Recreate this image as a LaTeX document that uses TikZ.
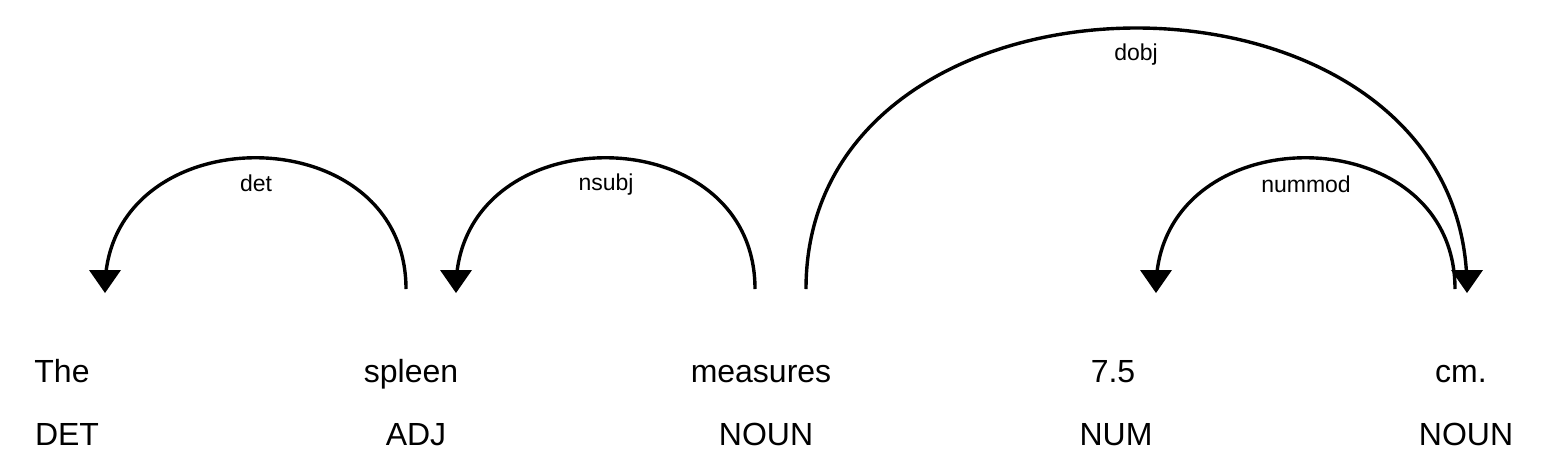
\documentclass[tikz,border=0pt]{standalone}
\usepackage{fontspec}
\setmainfont{Liberation Sans}
\begin{document}
\begin{tikzpicture}[x=1pt,y=-1pt,
  word/.style={font=\fontsize{32}{38}\selectfont, anchor=base, inner sep=0pt},
  arclabel/.style={font=\fontsize{23}{28}\selectfont, anchor=base, inner sep=0pt},
  deparc/.style={line width=3.4pt},
  dephead/.style={fill=black}]
\useasboundingbox (0,0) rectangle (1542,456);
% words
\node[word] (w1) at (62,382) {The};
\node[word] (w2) at (411,382) {spleen};
\node[word] (w3) at (761,382) {measures};
\node[word] (w4) at (1113,382) {7.5};
\node[word] (w5) at (1461,382) {cm.};
% tags
\node[word] (t1) at (67,445) {DET};
\node[word] (t2) at (416,445) {ADJ};
\node[word] (t3) at (766,445) {NOUN};
\node[word] (t4) at (1116,445) {NUM};
\node[word] (t5) at (1466,445) {NOUN};
% arc end points
\coordinate (a1s) at (406,289); \coordinate (a1e) at (105,289);
\coordinate (a2s) at (755,289); \coordinate (a2e) at (456,289);
\coordinate (a3s) at (806,289); \coordinate (a3e) at (1467,289);
\coordinate (a4s) at (1455,289); \coordinate (a4e) at (1156,289);
% arcs
\draw[deparc] (a1s) .. controls (406,114) and (105,114) .. (a1e);
\draw[deparc] (a2s) .. controls (755,114) and (456,114) .. (a2e);
\draw[deparc] (a3s) .. controls (806,-59) and (1467,-59) .. (a3e);
\draw[deparc] (a4s) .. controls (1455,114) and (1156,114) .. (a4e);
% arrow heads
\foreach \e in {a1e,a2e,a3e,a4e}{
  \fill[dephead] ([shift={(0,4)}]\e) -- ([shift={(-16,-19)}]\e) -- ([shift={(16,-19)}]\e) -- cycle;
}
% labels
\node[arclabel] (l1) at (256,191) {det};
\node[arclabel] (l2) at (606,190) {nsubj};
\node[arclabel] (l3) at (1136,60) {dobj};
\node[arclabel] (l4) at (1306,192) {nummod};
\end{tikzpicture}
\end{document}
